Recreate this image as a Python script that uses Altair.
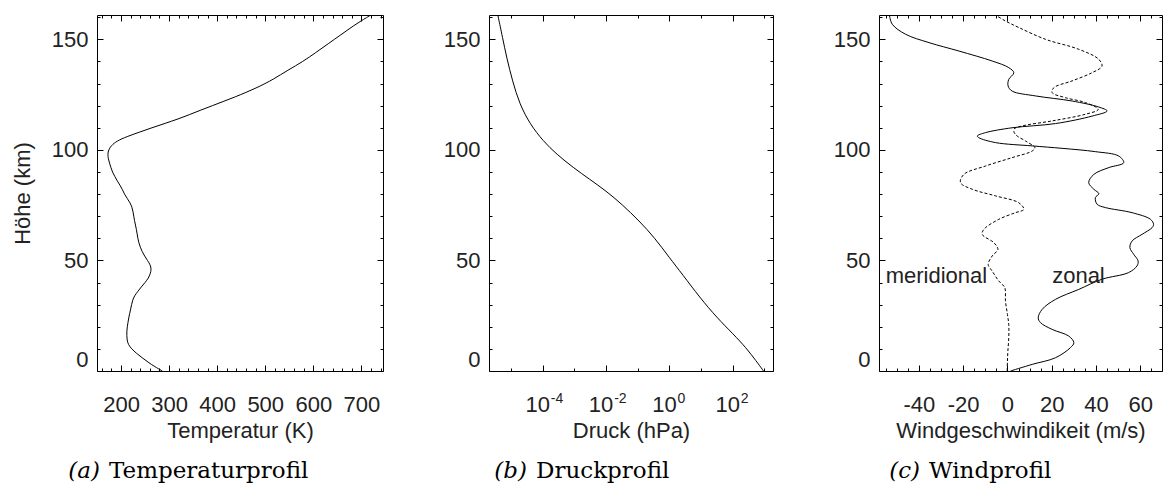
import altair as alt
import pandas as pd

# ---------------- data ----------------
# (a) temperature profile
temp_z = [0, 2, 4, 6, 8, 10, 12, 14, 16, 18, 20, 22, 24, 26, 28, 30, 32, 34, 36, 38,
          40, 42, 44, 46, 48, 50, 52, 54, 56, 58, 60, 62, 64, 66, 68, 70, 72, 74, 76, 78,
          80, 82, 84, 86, 88, 90, 92, 94, 96, 98, 100, 102, 104, 106, 108, 110, 112, 114,
          116, 118, 120, 122, 124, 126, 128, 130, 132, 134, 136, 138, 140, 142, 144, 146,
          148, 150, 152, 154, 156, 158, 160, 161]
temp_k = [286, 270, 256, 244, 232, 222, 215, 212.5, 212, 212, 213, 214.5, 216, 218, 220, 222,
          224, 228, 235, 242, 250, 257, 261, 263, 261, 255, 249, 244, 240, 237, 235, 233.5,
          232, 230, 228, 226.5, 225, 223, 219, 213, 207, 203, 198, 192, 187, 182, 179, 176,
          173.5, 172.3, 174, 180, 191, 212, 238, 264, 292, 319, 343, 366, 390, 414, 438,
          460, 481, 500, 517, 532, 547, 563, 578, 592, 605, 618, 631, 644, 657, 670, 683,
          697, 712, 720]

# (b) pressure profile
pres_z = [0, 4.5, 10.5, 16.6, 24.1, 33.2, 43.7, 51.2, 60.3, 67.8, 75.4, 81.4, 86.7, 92,
          98, 104, 111.6, 120.6, 131.2, 141.7, 150.7, 161]
pres_hpa = [933, 550, 263, 105, 31.6, 9.12, 2.57, 1.0, 0.339, 0.112, 0.0316, 0.01,
            3.02e-3, 9.12e-4, 2.75e-4, 1.02e-4, 3.98e-5, 1.86e-5, 1.10e-5, 7.24e-6,
            5.37e-6, 3.80e-6]

# (c) wind profile
zonal_z = [0, 3, 6, 10.6, 12.8, 15.8, 18.8, 21.9, 24.1, 27.9, 32.4, 36.9, 41.5, 44.5, 47.5,
           49.8, 52.8, 55.8, 58.8, 61.8, 64.8, 66.3, 68.6, 71.6, 73.9, 75.4, 78.4, 80.2,
           82.2, 85.2, 88.9, 92, 94.2, 97.2, 99.2, 100.7, 101.8, 103.3, 105.5, 106.3,
           107.8, 110, 111.9, 115.3, 117.6, 119.4, 122.1, 124.4, 126.6, 128.9, 131.9,
           134.9, 137.2, 140.2, 144.7, 148.5, 152.3, 156.8, 161]
zonal_u = [1.4, 11.2, 21.7, 28.5, 30, 27.7, 20.2, 14.9, 13.9, 15.7, 21.7, 32.2, 42.7, 54.7,
           58.5, 59, 57, 55.3, 56.3, 60.8, 65.3, 66, 64.6, 56.3, 44.3, 40.5, 39.7, 41.3, 39,
           36.7, 39, 45.8, 52.5, 50.3, 39.7, 24.7, 11.2, -5.4, -12.9, -13.6, -9.9, 2.1,
           21.7, 38.3, 45, 41.2, 29.2, 12.7, 2.1, 0.3, 0.6, 2.9, 0.6, -6.9, -21.9, -35.4,
           -46, -52, -53.3]

merid_z = [0, 4.5, 9, 15, 21, 25.6, 31.7, 37.7, 40.7, 45.2, 48.2, 52, 55, 58, 61.8, 64.1,
           68.6, 71.6, 73.1, 76.1, 79.2, 82.2, 85.2, 88.9, 92.7, 96.5, 99.5, 101, 104, 107,
           109.3, 110.8, 113.1, 116.1, 118.3, 121.4, 123.6, 125.9, 128.1, 131.2, 134.9,
           137.9, 141, 145.5, 150, 155.3, 158.3, 161]
merid_u = [-0.1, 0, 0.2, 0.6, 0.6, 0, -0.9, -1.2, -3.9, -6.9, -8.7, -6.9, -4.3, -6.1, -11.4,
           -10.6, -3.9, 3.6, 7.4, 5.1, -5.4, -15.9, -21.2, -19.7, -9.9, 2.1, 11.2, 12.4,
           8.2, 3.6, 2.9, 6.6, 20.2, 35.2, 41, 35.2, 26.2, 20.2, 20.9, 29.2, 38.2, 42.7,
           41.2, 32.2, 17.2, 5.2, -0.9, -5.4]

wind_label_text = ["meridional", "zonal"]
wind_label_u = [-55, 20.2]
wind_label_z = [40, 40]

# tick values
height_major = [0, 50, 100, 150]
height_minor = [10, 20, 30, 40, 60, 70, 80, 90, 110, 120, 130, 140, 160]
temp_major = [200, 300, 400, 500, 600, 700]
temp_minor = [160, 180, 220, 240, 260, 280, 320, 340, 360, 380, 420, 440, 460, 480,
              520, 540, 560, 580, 620, 640, 660, 680, 720, 740]
pres_major = [1e-4, 1e-2, 1, 1e2]
pres_exponents = ["-4", "-2", "0", "2"]
pres_minor = [1e-5, 1e-3, 1e-1, 1e1, 1e3]
wind_major = [-40, -20, 0, 20, 40, 60]
wind_minor = [-55, -50, -45, -35, -30, -25, -15, -10, -5, 5, 10, 15, 25, 30, 35, 45, 50,
              55, 65]

# ---------------- styling ----------------
FONT = "Liberation Sans"
SERIF = "DejaVu Serif"
TXT = "#222222"
H = 356
MAJ, MIN = 6, 3
YSCALE = alt.Scale(domain=[0, 161], nice=False, zero=False)


def ghost(df, xf, xscale, xaxis, yaxis):
    """Invisible layer that only carries an axis."""
    return alt.Chart(df).mark_point(opacity=0, size=0, clip=True).encode(
        x=alt.X(f"{xf}:Q", scale=xscale, axis=xaxis),
        y=alt.Y("z:Q", scale=YSCALE, axis=yaxis))


def panel(line_layers, df_axes, xf, xscale, W, xmajor, xminor, xtitle, ytitle,
          caption_letter, caption_text, caption_x, xlabel_kw=None, extra_xaxes=(),
          extra=None):
    layers = list(line_layers)
    if extra is not None:
        layers.append(extra)

    # labelled axes (no ticks)
    xaxis_kw = dict(orient="bottom", values=xmajor, ticks=False, tickSize=0,
                    labelPadding=40, labelBaseline="alphabetic",
                    labelExpr="'' + datum.value",
                    title=xtitle, titleX=W / 2, titleY=66, titleBaseline="alphabetic",
                    titleAlign="center")
    if xlabel_kw:
        xaxis_kw.update(xlabel_kw)
    yaxis_kw = dict(orient="left", values=height_major, ticks=False, tickSize=0,
                    labelPadding=9, labelFlush=True)
    if ytitle:
        yaxis_kw.update(title=ytitle, titleX=-75, titleY=H / 2, titleAngle=270,
                        titleBaseline="middle", titleAlign="center")
    else:
        yaxis_kw.update(title=None)
    layers.append(ghost(df_axes, xf, xscale, alt.Axis(**xaxis_kw), alt.Axis(**yaxis_kw)))
    for ax in extra_xaxes:
        layers.append(ghost(df_axes, xf, xscale, ax, None))

    # inward tick axes on all four sides
    def tick_axis(orient, offset, values, size):
        return alt.Axis(orient=orient, offset=offset, values=values, tickSize=size,
                        labels=False, title=None, ticks=True)

    for vals, size in ((xmajor, MAJ), (xminor, MIN)):
        layers.append(ghost(df_axes, xf, xscale, tick_axis("top", -H, vals, size), None))
        layers.append(ghost(df_axes, xf, xscale, tick_axis("bottom", -H, vals, size), None))
    for vals, size in ((height_major, MAJ), (height_minor, MIN)):
        layers.append(ghost(df_axes, xf, xscale, None, tick_axis("right", -W, vals, size)))
        layers.append(ghost(df_axes, xf, xscale, None, tick_axis("left", -W, vals, size)))

    # caption below the panel
    cap = pd.DataFrame({"t": [caption_text], "l": [caption_letter]})
    layers.append(alt.Chart(cap).mark_text(
        font=SERIF, fontSize=23, color="black", align="left", baseline="alphabetic"
    ).encode(x=alt.value(caption_x), y=alt.value(H + 107), text="t:N"))
    layers.append(alt.Chart(cap).mark_text(
        font=SERIF, fontSize=23, fontStyle="italic", color="black", align="right",
        baseline="alphabetic"
    ).encode(x=alt.value(caption_x - 9), y=alt.value(H + 107), text="l:N"))

    return alt.layer(*layers).resolve_axis(x="independent", y="independent").properties(
        width=W, height=H)


def profile_line(df, xf, xscale, interp, dash=None):
    kw = dict(color="black", strokeWidth=1, interpolate=interp, clip=True)
    if dash:
        kw["strokeDash"] = dash
    return alt.Chart(df).mark_line(**kw).encode(
        x=alt.X(f"{xf}:Q", scale=xscale, axis=None),
        y=alt.Y("z:Q", scale=YSCALE, axis=None),
        order="z:Q")


# ---- panel a
df_t = pd.DataFrame({"z": temp_z, "t": temp_k})
sc_t = alt.Scale(domain=[150, 745], nice=False, zero=False)
pa = panel([profile_line(df_t, "t", sc_t, "basis")], df_t, "t", sc_t, 286,
           temp_major, temp_minor, "Temperatur (K)", "Höhe (km)",
           "(a)", "Temperaturprofil", 12)

# ---- panel b
df_p = pd.DataFrame({"z": pres_z, "p": pres_hpa})
sc_p = alt.Scale(type="log", domain=[2.0e-6, 1.86e3], nice=False)
exp_expr = ("datum.value < 0.001 ? '{0}' : datum.value < 0.1 ? '{1}' : "
            "datum.value < 10 ? '{2}' : '{3}'").format(*pres_exponents)
exp_axis = alt.Axis(orient="bottom", values=pres_major, ticks=False, tickSize=0,
                    labelExpr=exp_expr, labelAlign="left", labelOffset=7.5,
                    labelFontSize=14, labelPadding=31, labelBaseline="alphabetic",
                    labelFlush=False, title=None)
pb = panel([profile_line(df_p, "p", sc_p, "basis")], df_p, "p", sc_p, 284,
           pres_major, pres_minor, "Druck (hPa)", None, "(b)", "Druckprofil", 47,
           xlabel_kw=dict(labelExpr="'10'", labelAlign="right", labelOffset=6.7,
                          labelFlush=False),
           extra_xaxes=[exp_axis])

# ---- panel c
df_zon = pd.DataFrame({"z": zonal_z, "u": zonal_u})
df_mer = pd.DataFrame({"z": merid_z, "u": merid_u})
sc_u = alt.Scale(domain=[-58, 69.8], nice=False, zero=False)
df_lab = pd.DataFrame({"u": wind_label_u, "z": wind_label_z, "txt": wind_label_text})
labels_c = alt.Chart(df_lab).mark_text(
    font=FONT, fontSize=22, color=TXT, align="left", baseline="alphabetic"
).encode(x=alt.X("u:Q", scale=sc_u, axis=None), y=alt.Y("z:Q", scale=YSCALE, axis=None),
         text="txt:N")
pc = panel([profile_line(df_zon, "u", sc_u, "catmull-rom"),
            profile_line(df_mer, "u", sc_u, "catmull-rom", dash=[3, 2])],
           df_zon, "u", sc_u, 283, wind_major, wind_minor,
           "Windgeschwindikeit (m/s)", None, "(c)", "Windprofil", 50, extra=labels_c)

chart = alt.hconcat(pa, pb, pc, spacing=106, bounds="flush").properties(
    padding={"left": 10, "top": 14, "right": 0, "bottom": 0}
).configure_view(stroke="black", strokeWidth=1).configure_axis(
    labelFont=FONT, labelFontSize=22, labelColor=TXT, titleFont=FONT, titleFontSize=22,
    titleColor=TXT, titleFontWeight="normal", tickColor="black", tickWidth=1,
    grid=False, domain=False
)

chart.save("out.html", embed_options={"renderer": "svg", "actions": False})
